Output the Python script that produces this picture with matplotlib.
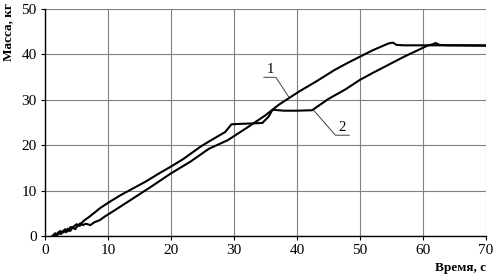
import matplotlib
matplotlib.use('Agg')
import matplotlib.pyplot as plt

# curve 1: continuous loading
t1 = [1.2, 1.8, 2.2, 2.5, 2.9, 3.3, 3.6, 4.0, 4.4, 4.8, 5.2, 5.6, 6.0, 6.5, 7.2, 7.8,
      8.7, 9.5, 10.3, 11.1, 13, 15, 17, 20, 23, 26, 29, 32, 35, 37.1, 40.3, 43, 46,
      48, 50, 52, 54.5, 55.2, 55.8, 57, 60, 65, 70]
m1 = [0, 0.3, 0.9, 0.4, 1.2, 0.8, 1.6, 1.1, 1.9, 1.5, 2.3, 2.8, 2.4, 2.7, 2.4, 3.0,
      3.5, 4.3, 5.0, 5.7, 7.4, 9.2, 11.0, 13.8, 16.3, 19.2, 21.1, 23.8, 26.6, 28.9, 31.8, 34.0, 36.6,
      38.1, 39.5, 40.9, 42.4, 42.6, 42.1, 42.0, 42.0, 42.0, 41.9]

# curve 2: loading with pauses
t2 = [1.2, 1.6, 2.0, 2.4, 2.8, 3.2, 3.6, 4.0, 4.5, 5.0, 5.5, 6.1, 7.0, 8.0, 8.7, 10,
      12, 14, 16, 18, 20, 22, 24.7, 26, 28.6, 29.6, 31, 33, 34.5, 35.5, 36.1, 38, 40,
      42.4, 45, 47.7, 50, 52, 54.5, 57, 59, 60.8, 61.5, 62.0, 62.6, 64, 67, 70]
m2 = [0, 0.6, 0.2, 1.1, 0.7, 1.5, 1.0, 1.9, 2.0, 2.6, 2.2, 3.3, 4.2, 5.3, 6.1, 7.3,
      9.0, 10.5, 12.0, 13.7, 15.3, 17.0, 19.7, 20.8, 22.9, 24.6, 24.7, 24.8, 24.9, 26.3, 27.8, 27.6, 27.6,
      27.7, 30.2, 32.3, 34.4, 35.9, 37.7, 39.5, 40.8, 42.0, 42.2, 42.5, 42.1, 42.0, 42.0, 42.0]

x_ticks = [0, 10, 20, 30, 40, 50, 60, 70]
y_ticks = [0, 10, 20, 30, 40, 50]

plt.rcParams['font.family'] = ['Liberation Serif', 'DejaVu Serif']

fig = plt.figure(figsize=(4.95, 2.78), dpi=100)
ax = fig.add_axes([45/495, 1 - 236/278, (486 - 45)/495, (236 - 9)/278])

ax.plot(t1, m1, color='black', lw=1.5, solid_joinstyle='round')
ax.plot(t2, m2, color='black', lw=1.5, solid_joinstyle='round')

# labels with leader lines
ax.text(35.7, 35.2, '1', fontsize=10.5, ha='center', va='bottom')
ax.plot([34.75, 36.65, 38.7], [34.95, 34.95, 30.6], color='#404040', lw=0.7)
ax.text(47.2, 22.4, '2', fontsize=10.5, ha='center', va='bottom')
ax.plot([48.3, 46.1, 42.7], [22.2, 22.2, 27.6], color='#404040', lw=0.7)

ax.set_xlim(0, 70)
ax.set_ylim(0, 50)
ax.set_xticks(x_ticks)
ax.set_yticks(y_ticks)
ax.grid(True, color='#808080', lw=0.8)
ax.set_axisbelow(True)
for s in ['top', 'right']:
    ax.spines[s].set_visible(False)
for s in ['left', 'bottom']:
    ax.spines[s].set_linewidth(1.0)
ax.tick_params(labelsize=11, length=3, width=0.8, pad=3)

fig.text(8/495, 1 - 3/278, 'Масса, кг', rotation=90, fontsize=9.5, fontweight='bold',
         ha='center', va='top')
fig.text(486/495, 1 - 274/278, 'Время, с', fontsize=9.5, fontweight='bold',
         ha='right', va='bottom')

fig.savefig('out.png', dpi=100)
